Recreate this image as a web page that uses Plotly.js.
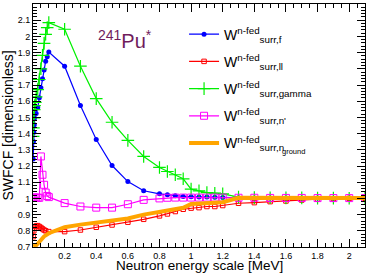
<!DOCTYPE html>
<html>
<head>
<meta charset="utf-8">
<script src="https://cdn.plot.ly/plotly-3.0.1.min.js"></script>
<style>html,body{margin:0;padding:0;background:#fff;}#chart{width:370px;height:273px;}</style>
</head>
<body>
<div id="chart"></div>
<script>
// ---- data ----
const xF = [0.001,0.003,0.005,0.008,0.01,0.02,0.03,0.04,0.05,0.06,0.07,0.08,0.09,0.1,0.2,0.3,0.4,0.5,0.6,0.7,0.8,0.85,0.9,0.95,1.0,1.05,1.1,1.15,1.2,1.3,1.4,1.5,1.6,1.7,1.8,1.9,2.0,2.1];
const yF = [1.243,1.352,1.408,1.455,1.497,1.524,1.559,1.621,1.683,1.738,1.792,1.847,1.875,1.903,1.816,1.573,1.363,1.203,1.104,1.047,1.028,1.022,1.016,1.012,1.010,1.008,1.008,1.007,1.006,1.004,1.003,1.003,1.002,1.002,1.002,1.001,1.001,1.001];

const xLL = [0.002,0.005,0.01,0.02,0.03,0.04,0.05,0.06,0.07,0.08,0.1,0.2,0.3,0.4,0.5,0.6,0.7,0.8,0.85,0.9,0.95,1.0,1.05,1.1,1.15,1.2,1.3,1.4,1.5,1.6,1.7,1.8,1.9,2.0,2.1];
const yLL = [0.764,0.800,0.816,0.830,0.832,0.826,0.820,0.812,0.805,0.800,0.795,0.795,0.805,0.822,0.836,0.853,0.871,0.892,0.904,0.919,0.933,0.940,0.943,0.950,0.950,0.956,0.970,0.974,0.980,0.984,0.990,0.995,0.998,1.000,1.001];

const xG = [0.001,0.003,0.005,0.008,0.01,0.015,0.02,0.03,0.04,0.05,0.06,0.07,0.08,0.09,0.1,0.2,0.3,0.4,0.5,0.6,0.7,0.8,0.85,0.9,0.95,1.0,1.05,1.1,1.15,1.2,1.3,1.4,1.5,1.6,1.7,1.8,1.9,2.0,2.1];
const yG = [1.383,1.435,1.497,1.548,1.573,1.593,1.627,1.672,1.734,1.800,1.883,1.957,2.013,2.054,2.085,2.044,1.816,1.616,1.470,1.358,1.259,1.191,1.166,1.146,1.121,1.057,1.047,1.036,1.032,1.028,1.008,1.005,1.004,1.003,1.003,1.002,1.002,1.001,1.001];

const xNp = [0.002,0.01,0.02,0.03,0.04,0.05,0.06,0.07,0.08,0.09,0.1,0.2,0.3,0.4,0.5,0.6,0.7,0.8,0.85,0.9,0.95,1.0,1.05,1.1,1.15,1.2,1.3,1.4,1.5,1.6,1.7,1.8,1.9,2.0,2.1];
const yNp = [1.005,1.005,1.004,1.004,1.004,1.259,1.146,1.084,1.036,1.015,1.008,0.971,0.950,0.943,0.943,0.964,0.991,1.000,1.004,1.005,1.005,1.005,1.005,1.005,1.005,1.005,1.004,1.004,1.003,1.003,1.003,1.002,1.002,1.002,1.002];

const xNg = [0.001,0.01,0.02,0.03,0.05,0.07,0.1,0.2,0.3,0.4,0.5,0.6,0.7,0.8,0.9,0.95,1.0,1.05,1.1,1.15,1.2,1.3,1.4,1.5,1.6,1.7,1.8,1.9,2.0,2.1];
const yNg = [0.705,0.705,0.710,0.720,0.745,0.765,0.785,0.822,0.838,0.850,0.860,0.876,0.900,0.918,0.936,0.942,0.966,0.970,0.972,0.974,0.976,1.004,1.004,1.004,1.003,1.003,1.003,1.002,1.002,1.002];

const names = [
  "W<sup>n-fed</sup><sub>surr,f</sub>",
  "W<sup>n-fed</sup><sub>surr,ll</sub>",
  "W<sup>n-fed</sup><sub>surr,gamma</sub>",
  "W<sup>n-fed</sup><sub>surr,n'</sub>",
  "W<sup>n-fed</sup><sub>surr,n</sub>"
];
const groundLabel = "ground";
const xTitle = "Neutron energy scale [MeV]";
const yTitle = "SWFCF [dimensionless]";
const xTicks = [0.2,0.4,0.6,0.8,1.0,1.2,1.4,1.6,1.8,2.0];
const xTickText = ["0.2","0.4","0.6","0.8","1","1.2","1.4","1.6","1.8","2"];
const yTicks = [0.7,0.8,0.9,1.0,1.1,1.2,1.3,1.4,1.5,1.6,1.7,1.8,1.9,2.0,2.1,2.2];
const yTickText = ["0.7","0.8","0.9","1","1.1","1.2","1.3","1.4","1.5","1.6","1.7","1.8","1.9","2","2.1","2.2"];

const FONT = "Liberation Sans, Arial, Helvetica, sans-serif";

const traces = [
  {x:xF, y:yF, name:names[0], legendgroup:"a", mode:"lines+markers",
   line:{color:"#0000ff", width:1.2}, marker:{symbol:"circle", size:5, color:"#0000ff"}},
  {x:xLL, y:yLL, name:names[1], legendgroup:"b", mode:"lines+markers",
   line:{color:"#ff0000", width:1.2}, marker:{symbol:"square-open", size:4.5, color:"#ff0000", line:{width:1}}},
  {x:xG, y:yG, name:names[2], legendgroup:"c", mode:"lines+markers",
   line:{color:"#00f000", width:1.2}, marker:{symbol:"cross-thin-open", size:9, color:"#00f000", line:{width:1.2, color:"#00f000"}}},
  {x:xNp, y:yNp, name:names[3], legendgroup:"d", mode:"lines+markers",
   line:{color:"#ff00ff", width:1.2}, marker:{symbol:"square-open", size:7, color:"#ff00ff", line:{width:1}}},
  {x:xNg, y:yNg, name:names[4], legendgroup:"e", mode:"lines",
   line:{color:"#ffa500", width:4}}
];

const axisCommon = {
  showline:true, linecolor:"#000", linewidth:1, mirror:"ticks",
  ticks:"inside", tickcolor:"#000", ticklen:8, tickwidth:1,
  showgrid:false, zeroline:false,
  tickfont:{family:FONT, size:9, color:"#000"}
};

const layout = {
  width:370, height:273,
  margin:{l:33, r:5, t:4, b:26},
  paper_bgcolor:"#fff", plot_bgcolor:"#fff",
  font:{family:FONT, color:"#000"},
  xaxis:Object.assign({}, axisCommon, {
    range:[0,2.1], tickmode:"array", tickvals:xTicks, ticktext:xTickText,
    minor:{ticks:"inside", ticklen:4, dtick:0.05, tick0:0, tickcolor:"#000", showgrid:false}
  }),
  yaxis:Object.assign({}, axisCommon, {
    range:[0.7,2.2], tickmode:"array", tickvals:yTicks, ticktext:yTickText,
    minor:{ticks:"inside", ticklen:4, dtick:0.02, tick0:0.7, tickcolor:"#000", showgrid:false},
    title:{text:yTitle, font:{family:FONT, size:14, color:"#000"}, standoff:2}
  }),
  showlegend:true,
  legend:{x:0.455, y:0.94, xanchor:"left", yanchor:"top", bgcolor:"rgba(0,0,0,0)",
    font:{family:FONT, size:14, color:"#000"}, traceorder:"grouped", tracegroupgap:6, itemwidth:30},
  annotations:[{
    xref:"paper", yref:"paper", x:0.19, y:0.855, xanchor:"left", yanchor:"middle",
    text:"<sup>241</sup>Pu<sup>*</sup>", showarrow:false,
    font:{family:FONT, size:20, color:"#701c5c"}
  },{
    xref:"paper", yref:"paper", x:0.745, y:0.395, xanchor:"left", yanchor:"middle",
    text:groundLabel, showarrow:false,
    font:{family:FONT, size:7.5, color:"#000"}
  },{
    xref:"paper", yref:"paper", x:0.5, y:0, xanchor:"center", yanchor:"top", yshift:-10, borderpad:0,
    text:xTitle, showarrow:false,
    font:{family:FONT, size:13.5, color:"#000"}
  }]
};

Plotly.newPlot("chart", traces, layout, {staticPlot:true, displayModeBar:false});
</script>
</body>
</html>
